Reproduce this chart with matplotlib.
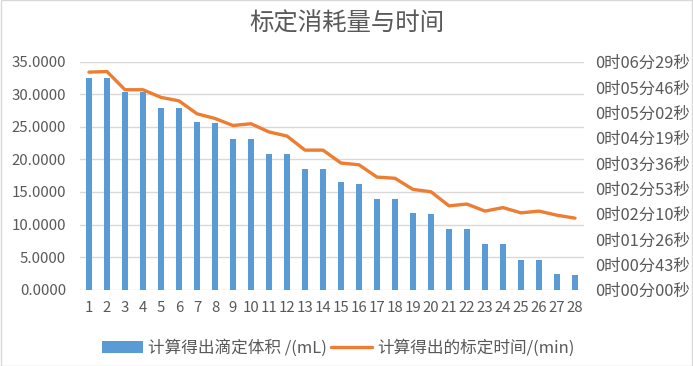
import numpy as np
import matplotlib.pyplot as plt
from matplotlib.ticker import FuncFormatter
from matplotlib.patches import Rectangle

plt.rcParams['font.family'] = ['Noto Sans CJK SC', 'DejaVu Sans']

samples = list(range(1, 29))
volume_ml = [32.5, 32.5, 30.3, 30.3, 27.9, 27.9, 25.7, 25.55, 23.2, 23.1,
             20.9, 20.9, 18.6, 18.6, 16.6, 16.3, 13.9, 13.9, 11.7, 11.6,
             9.3, 9.3, 7.05, 7.05, 4.6, 4.6, 2.4, 2.25]
# time in seconds
time_s = [371, 372, 341, 341, 328, 322, 300, 292, 280, 283,
          269, 262, 238, 238, 216, 213, 192, 190, 171, 167,
          143, 146, 134, 140, 131, 134, 127, 122]

bar_label = '计算得出滴定体积 /(mL)'
line_label = '计算得出的标定时间/(min)'
title = '标定消耗量与时间'

gray = '#595959'
fig = plt.figure(figsize=(6.93, 3.66), dpi=100)
ax = fig.add_axes([0.1154, 0.2085, 0.7273, 0.6229])
ax2 = ax.twinx()

x = np.arange(len(samples))
bars = ax.bar(x, volume_ml, width=0.34, color='#5b9bd5', zorder=2)
line, = ax2.plot(x, time_s, color='#ed7d31', lw=2.4, solid_capstyle='round', zorder=3)

ax.set_xlim(-0.5, len(samples) - 0.5)
ax.set_ylim(0, 35)
ax.set_yticks(np.arange(0, 36, 5))
ax.yaxis.set_major_formatter(FuncFormatter(lambda v, p: f'{v:.4f}'))
ax.set_xticks(x)
ax.set_xticklabels([str(s) for s in samples])
ax.grid(axis='y', color='#d9d9d9', lw=1, zorder=0)
ax.set_axisbelow(True)

ax2.set_ylim(0, 388.8)
ax2.set_yticks(np.arange(10) * 43.2)


def fmt_time(v, p):
    s = int(round(v))
    return f'0时{s // 60:02d}分{s % 60:02d}秒'


ax2.yaxis.set_major_formatter(FuncFormatter(fmt_time))

for a in (ax, ax2):
    for sp in a.spines.values():
        sp.set_visible(False)
    a.tick_params(length=0, labelsize=10.8, colors=gray)
ax.tick_params(axis='y', pad=10)
ax.tick_params(axis='x', pad=8)
ax2.tick_params(axis='y', pad=8, labelsize=11.8)

fig.text(0.5, 0.935, title, ha='center', va='center', fontsize=17.6, color=gray)

fig.legend([bars, line], [bar_label, line_label], loc='center',
           bbox_to_anchor=(0.488, 0.05), ncol=2, frameon=False, fontsize=12,
           labelcolor=gray, handlelength=2.5, handletextpad=0.3, columnspacing=0.2)

fig.patches.append(Rectangle((0.001, 0.001), 0.998, 0.998, transform=fig.transFigure,
                             fill=False, edgecolor='#d9d9d9', lw=1))

fig.savefig('out.png', dpi=100)
